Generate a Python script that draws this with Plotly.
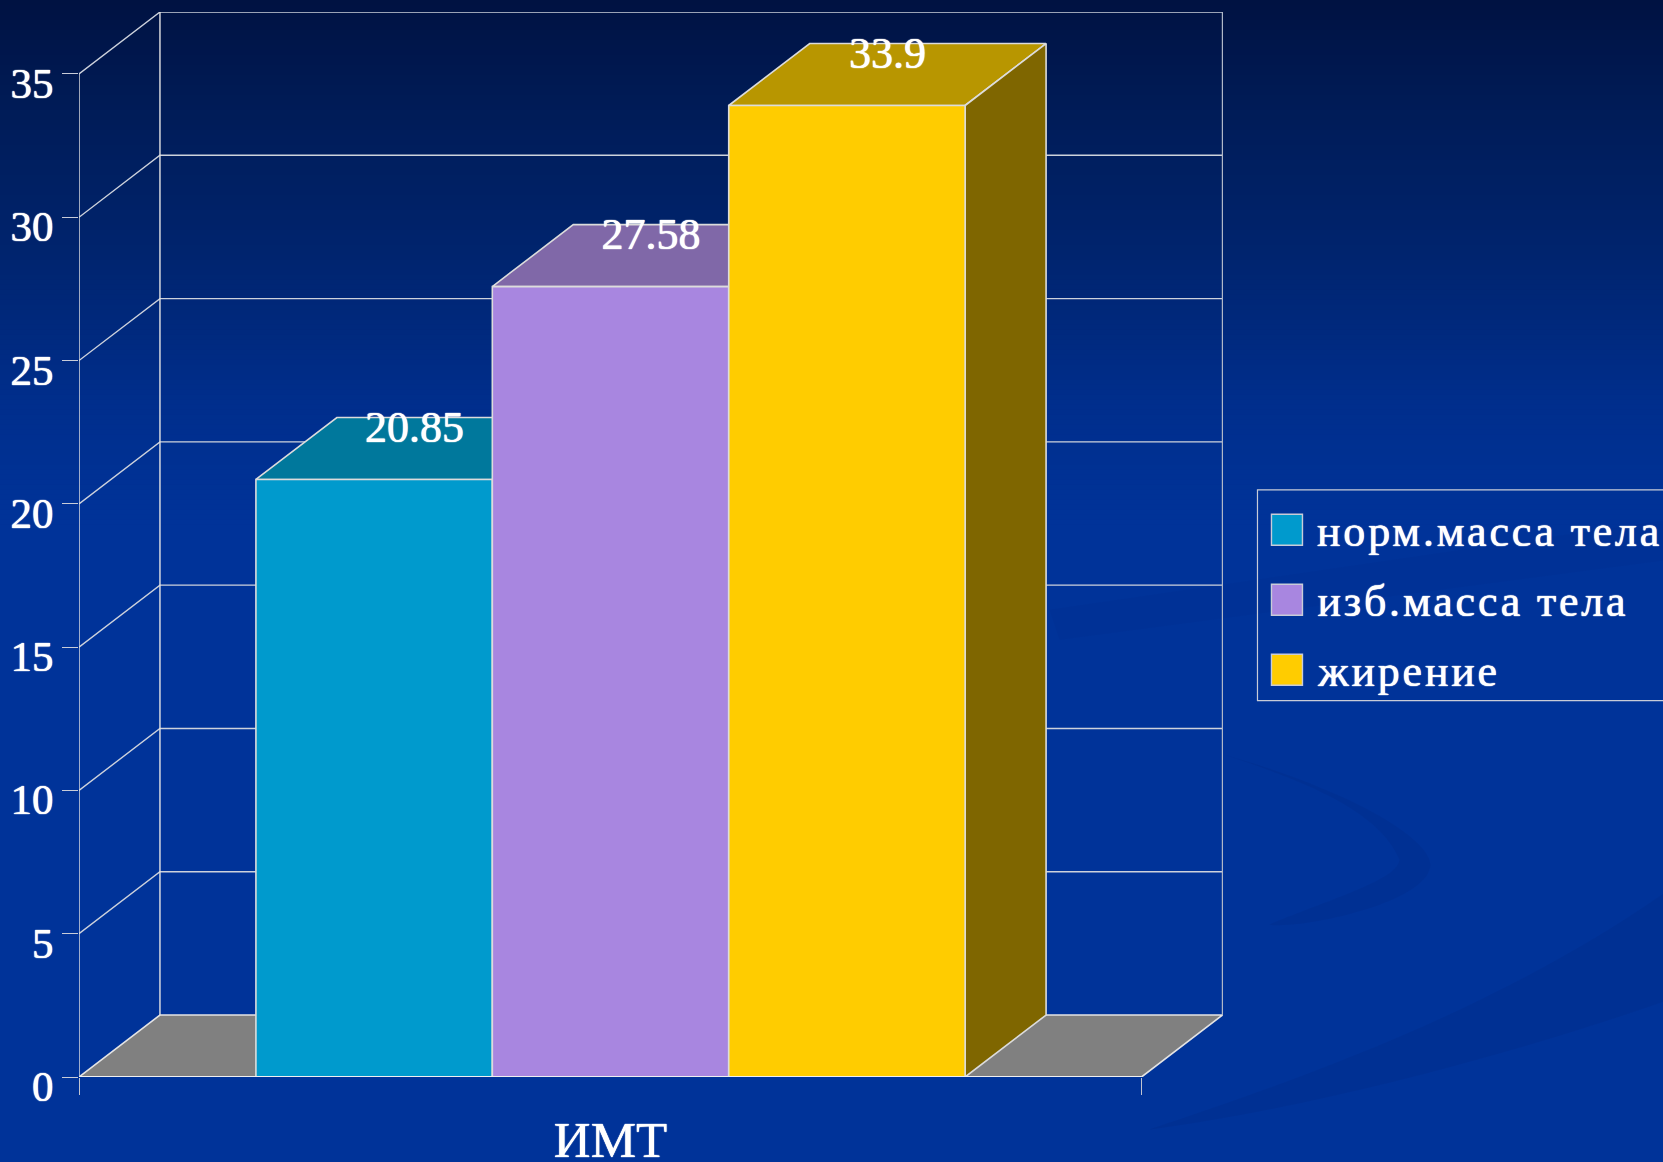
import plotly.graph_objects as go

# --- data ---
categories = ["норм.масса тела", "изб.масса тела", "жирение"]
values = [20.85, 27.58, 33.9]
value_labels = ["20.85", "27.58", "33.9"]
y_ticks = [0, 5, 10, 15, 20, 25, 30, 35]
x_label = "ИМТ"

front_colors = ["#009ACD", "#A886E0", "#FFCC00"]
top_colors = ["#00789C", "#8068A8", "#B89600"]
side_colors = ["#00607C", "#64508A", "#7F6600"]

# --- geometry in axis units ---
W, H = 1663, 1162
L, R, T, B = 79, 1223.5, 12, 1077.5
x_unit = 236.5               # px per bar slot
y_unit = (1077.5 - 74) / 35  # px per value unit
x_front_left = -(256 - 79) / x_unit
x_front_right = 3 + (1142 - 256 - 3 * x_unit) / x_unit
dx = 81 / x_unit
dy = 62 / y_unit
x_range = [x_front_left, x_front_left + (R - L) / x_unit]
y_range = [0, (B - T) / y_unit]

FONT = "Liberation Serif"
LINE = "#DCDCDC"
GRID = "#CDD2DC"
SHADOW = "0 0 1px #ffffff, 0 0 1px #ffffff"
LETTER_SPACING = 2.8


def px(x):
    return (x - L) / (R - L)


def py(y):
    return (B - y) / (B - T)


fig = go.Figure()


def line(xs, ys, color=GRID, width=1.4):
    fig.add_trace(go.Scatter(x=xs, y=ys, mode="lines", line=dict(color=color, width=width),
                             showlegend=False, hoverinfo="skip", cliponaxis=False))


def poly(xs, ys, fill, edge=LINE, width=1.6):
    fig.add_trace(go.Scatter(x=xs + xs[:1], y=ys + ys[:1], mode="lines", fill="toself",
                             fillcolor=fill, line=dict(color=edge, width=width),
                             showlegend=False, hoverinfo="skip", cliponaxis=False))


# floor
poly([x_front_left, x_front_left + dx, x_front_right + dx, x_front_right],
     [0, dy, dy, 0], "#808080", edge="#E4E4E4")

# walls and grid
for t in y_ticks[1:]:
    line([x_front_left, x_front_left + dx, x_front_right + dx], [t, t + dy, t + dy])
line([x_front_left, x_front_left], [0, 35], color="#E4E4E4")
line([x_front_left + dx, x_front_left + dx], [dy, 35 + dy], color="#E4E4E4")
line([x_front_right + dx, x_front_right + dx], [dy, 35 + dy], color="#B0B8C8")

# bars
for i, v in enumerate(values):
    poly([i, i + dx, i + 1 + dx, i + 1], [v, v + dy, v + dy, v], top_colors[i])
    poly([i + 1, i + 1 + dx, i + 1 + dx, i + 1], [0, dy, v + dy, v], side_colors[i])
    poly([i, i + 1, i + 1, i], [0, 0, v, v], front_colors[i])

line([x_front_left, x_front_right], [0, 0], color="#F0F0F0", width=1.8)

# value labels
for i, v in enumerate(values):
    fig.add_trace(go.Scatter(x=[i + 0.5 + dx / 2], y=[v + dy - 0.48], mode="text",
                             text=[value_labels[i]], textposition="middle center",
                             textfont=dict(family=FONT, size=44, color="white", shadow=SHADOW),
                             showlegend=False, hoverinfo="skip", cliponaxis=False))

shapes = []
# page background: dark navy at the top running into royal blue
stops = [(0, (0, 18, 66)), (100, (0, 27, 86)), (250, (0, 36, 110)), (400, (0, 46, 140)),
         (520, (0, 51, 153)), (1162, (0, 51, 153))]
for py0 in range(0, 530, 5):
    for (a, ca), (b, cb) in zip(stops, stops[1:]):
        if a <= py0 <= b:
            f = (py0 - a) / (b - a)
            c = [round(p + (q - p) * f) for p, q in zip(ca, cb)]
            break
    shapes.append(dict(type="rect", xref="paper", yref="paper", layer="below",
                       x0=px(-5), x1=px(W + 5), y0=py(py0), y1=py(H + 5),
                       fillcolor=f"rgb({c[0]},{c[1]},{c[2]})", line=dict(width=0)))


def swoosh(points, opacity):
    d = ""
    for cmd, pts in points:
        d += cmd + " ".join(f"{px(x):.5f},{py(y):.5f}" for x, y in pts) + " "
    shapes.append(dict(type="path", xref="paper", yref="paper", layer="below", path=d + "Z",
                       fillcolor=f"rgba(0,38,125,{opacity})", line=dict(width=0)))


# faint darker swooshes in the backdrop, lower right
swoosh([("M", [(1225, 755)]), ("C", [(1380, 800), (1440, 850), (1430, 870)]),
        ("C", [(1420, 905), (1300, 930), (1270, 925)]),
        ("C", [(1330, 900), (1400, 880), (1400, 860)]),
        ("C", [(1380, 810), (1300, 780), (1225, 755)])], 0.2)
swoosh([("M", [(1150, 1130)]), ("C", [(1300, 1080), (1500, 1010), (1670, 890)]),
        ("L", [(1670, 1000)]), ("C", [(1500, 1060), (1300, 1110), (1150, 1130)])], 0.2)
swoosh([("M", [(1050, 610)]), ("L", [(1670, 520)]), ("L", [(1670, 560)]),
        ("L", [(1060, 640)])], 0.1)

# legend
shapes.append(dict(type="rect", xref="paper", yref="paper", x0=px(1258), x1=px(W + 20),
                   y0=py(490), y1=py(701), line=dict(color="#C8CCD8", width=1.2)))
annotations = []
for i, name in enumerate(categories):
    top = 514.5 + 70 * i
    shapes.append(dict(type="rect", xref="paper", yref="paper", x0=px(1272), x1=px(1303),
                       y0=py(top), y1=py(top + 31), fillcolor=front_colors[i],
                       line=dict(color="#C8CCD8", width=1.4)))
    annotations.append(dict(xref="paper", yref="paper",
                            x=px(1316 + LETTER_SPACING / 2 * len(name)), y=py(top + 17),
                            text=name, showarrow=False, xanchor="left", yanchor="middle",
                            font=dict(family=FONT, size=44, color="white", shadow=SHADOW)))

fig.update_layout(
    width=W, height=H, autosize=False,
    margin=dict(l=L, r=W - R, t=T, b=H - B, pad=0, autoexpand=False),
    paper_bgcolor="#003399", plot_bgcolor="rgba(0,0,0,0)",
    showlegend=False, shapes=shapes, annotations=annotations,
    xaxis=dict(range=x_range, showgrid=False, zeroline=False, showline=False, automargin=False,
               tickmode="array", tickvals=[1.5], ticktext=[x_label], ticks="", ticklen=0,
               ticklabelstandoff=28,
               tickfont=dict(family=FONT, size=51, color="white", shadow=SHADOW),
               minor=dict(tickmode="array", tickvals=[x_front_left, x_front_right],
                          ticks="outside", ticklen=17, tickcolor="#C0C4D0", tickwidth=1.2)),
    yaxis=dict(range=y_range, showgrid=False, zeroline=False, showline=False, automargin=False,
               tickmode="array", tickvals=y_ticks, ticktext=[str(t) for t in y_ticks],
               ticks="outside", ticklen=16, tickcolor="#C8CCD8", tickwidth=1.2,
               ticklabelstandoff=0, ticklabelshift=9,
               tickfont=dict(family=FONT, size=43, color="white", shadow=SHADOW)),
)
post = f"""
document.documentElement.style.margin = '0';
document.body.style.margin = '0';
document.body.style.overflow = 'hidden';
document.querySelectorAll('.annotation-text').forEach(function (t) {{
  t.style.letterSpacing = '{LETTER_SPACING}px';
}});
"""
fig.write_html("out.html", post_script=post, config=dict(displayModeBar=False))
